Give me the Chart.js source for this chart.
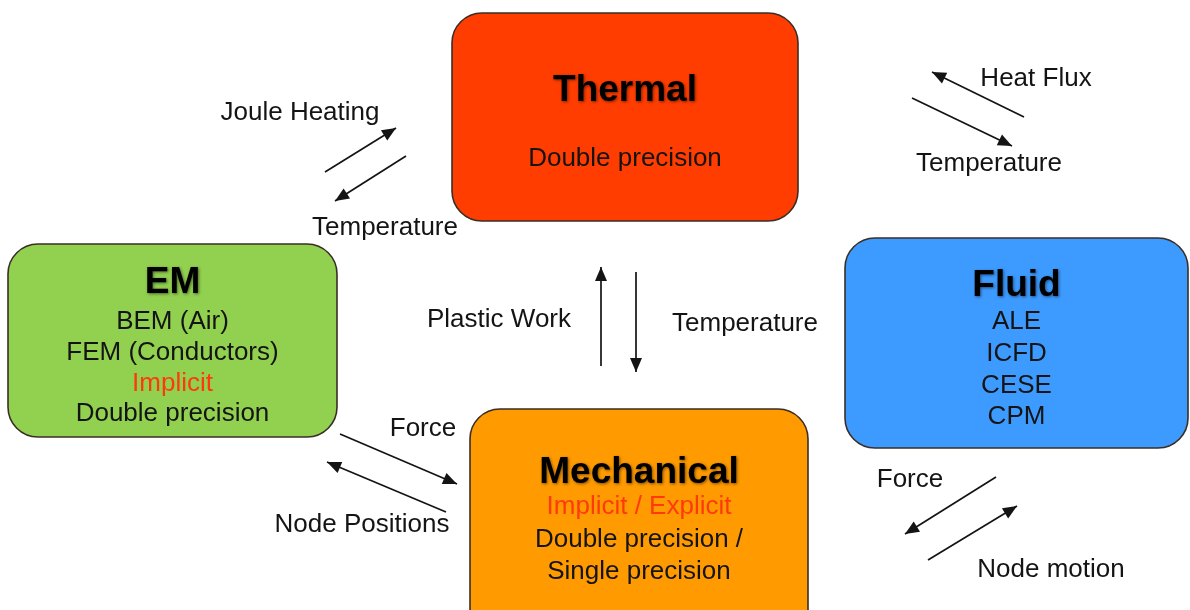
<!DOCTYPE html>
<html>
<head>
<meta charset="utf-8">
<script src="https://cdn.jsdelivr.net/npm/chart.js@4.4.0/dist/chart.umd.min.js"></script>
<style>
  html, body { margin: 0; padding: 0; background: #fff; }
  #wrap { width: 1190px; height: 610px; }
</style>
</head>
<body>
<div id="wrap"><canvas id="diagram" width="1190" height="610"></canvas></div>
<script>
// --- diagram data (x / y in axis units, y grows downward) ---
const boxNames  = ['Thermal', 'EM', 'Fluid', 'Mechanical'];
const boxLeft   = [452, 8, 845, 470];
const boxRight  = [798, 337, 1188, 808];
const boxTop    = [13, 244, 238, 409];
const boxBottom = [221, 437, 448, 640];
const boxTitleY = [101, 293, 296, 483];

const boxLines  = [
    ['Double precision'],
    ['BEM (Air)', 'FEM (Conductors)', 'Implicit', 'Double precision'],
    ['ALE', 'ICFD', 'CESE', 'CPM'],
    ['Implicit / Explicit', 'Double precision /', 'Single precision']
];
const boxLinesY = [
    [166],
    [329, 360, 391, 421],
    [329, 361, 393, 424],
    [514, 547, 579]
];
const highlighted = ['Implicit', 'Implicit / Explicit'];

const arrowFrom = [[325, 172], [406, 156], [1024, 117], [912, 98], [601, 366],
                   [636, 272], [340, 434], [446, 512], [996, 477], [928, 560]];
const arrowTo   = [[396, 128], [335, 201], [932, 72], [1012, 146], [601, 267],
                   [636, 372], [457, 484], [327, 462], [905, 534], [1017, 506]];

const labelTexts = ['Joule Heating', 'Temperature', 'Heat Flux', 'Temperature', 'Plastic Work',
                    'Temperature', 'Force', 'Node Positions', 'Force', 'Node motion'];
const labelX = [300, 385, 1036, 989, 499, 745, 423, 362, 910, 1051];
const labelY = [120, 235, 86, 171, 327, 331, 436, 532, 487, 577];

// --- styles ---
const boxColors = ['#ff3d00', '#92d050', '#3d9bff', '#ff9a00'];
const inkColor = '#141414';
const redText = '#ff3a0a';
const FONT = '"Liberation Sans", Arial, sans-serif';

const diagramPlugin = {
    id: 'diagram',
    beforeDatasetsDraw(chart) {
        const { ctx, scales: { x, y } } = chart;
        ctx.save();
        boxNames.forEach((name, i) => {
            const l = x.getPixelForValue(boxLeft[i]);
            const r = x.getPixelForValue(boxRight[i]);
            const t = y.getPixelForValue(boxTop[i]);
            const b = y.getPixelForValue(boxBottom[i]);
            ctx.beginPath();
            ctx.roundRect(l, t, r - l, b - t, 30);
            ctx.fillStyle = boxColors[i];
            ctx.fill();
            ctx.lineWidth = 1.6;
            ctx.strokeStyle = '#3a2e26';
            ctx.stroke();

            const cx = (l + r) / 2;
            ctx.textAlign = 'center';
            ctx.textBaseline = 'alphabetic';
            // title with a soft shadow
            ctx.save();
            ctx.font = 'bold 37px ' + FONT;
            ctx.fillStyle = '#000';
            ctx.shadowColor = 'rgba(0,0,0,0.5)';
            ctx.shadowBlur = 3;
            ctx.shadowOffsetX = 1;
            ctx.shadowOffsetY = 1;
            ctx.fillText(name, cx, y.getPixelForValue(boxTitleY[i]));
            ctx.restore();

            ctx.font = '26px ' + FONT;
            boxLines[i].forEach((txt, j) => {
                ctx.fillStyle = highlighted.includes(txt) ? redText : inkColor;
                ctx.fillText(txt, cx, y.getPixelForValue(boxLinesY[i][j]));
            });
        });
        ctx.restore();
    },
    afterDatasetsDraw(chart) {
        const { ctx, scales: { x, y } } = chart;
        ctx.save();
        // arrow heads at the end point of each line dataset
        chart.data.datasets.forEach((ds, i) => {
            const pts = chart.getDatasetMeta(i).data;
            const p0 = pts[0], p1 = pts[1];
            const ang = Math.atan2(p1.y - p0.y, p1.x - p0.x);
            const len = 14, half = 6;
            ctx.beginPath();
            ctx.moveTo(p1.x, p1.y);
            ctx.lineTo(p1.x - len * Math.cos(ang) + half * Math.sin(ang),
                       p1.y - len * Math.sin(ang) - half * Math.cos(ang));
            ctx.lineTo(p1.x - len * Math.cos(ang) - half * Math.sin(ang),
                       p1.y - len * Math.sin(ang) + half * Math.cos(ang));
            ctx.closePath();
            ctx.fillStyle = inkColor;
            ctx.fill();
        });
        // arrow labels
        ctx.font = '26px ' + FONT;
        ctx.fillStyle = inkColor;
        ctx.textAlign = 'center';
        ctx.textBaseline = 'alphabetic';
        labelTexts.forEach((txt, i) => {
            ctx.fillText(txt, x.getPixelForValue(labelX[i]), y.getPixelForValue(labelY[i]));
        });
        ctx.restore();
    }
};

const datasets = arrowFrom.map((f, i) => ({
    data: [{ x: f[0], y: f[1] }, { x: arrowTo[i][0], y: arrowTo[i][1] }],
    showLine: true,
    borderColor: inkColor,
    borderWidth: 1.7,
    pointRadius: 0,
    pointHoverRadius: 0,
    fill: false
}));

new Chart(document.getElementById('diagram'), {
    type: 'scatter',
    data: { datasets },
    options: {
        responsive: false,
        animation: false,
        events: [],
        layout: { padding: 0 },
        plugins: { legend: { display: false }, tooltip: { enabled: false } },
        scales: {
            x: { type: 'linear', min: 0, max: 1190, display: false },
            y: { type: 'linear', min: 0, max: 610, reverse: true, display: false }
        }
    },
    plugins: [diagramPlugin]
});
</script>
</body>
</html>
